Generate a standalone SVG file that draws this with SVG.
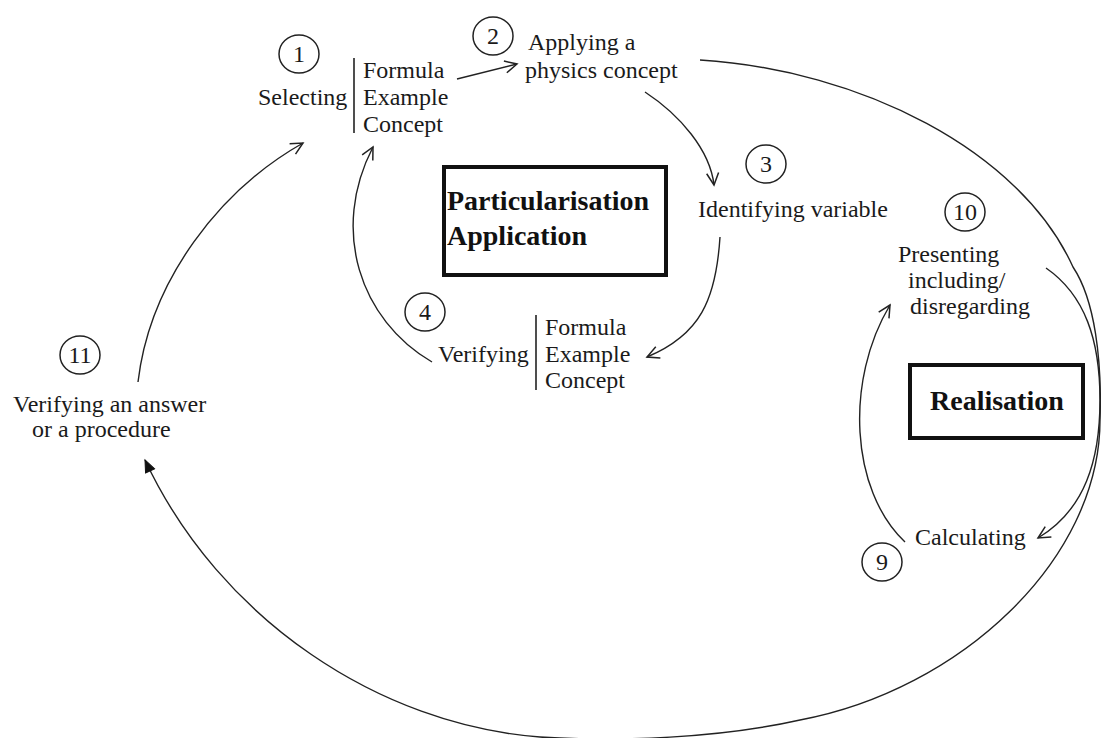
<svg xmlns="http://www.w3.org/2000/svg" width="1101" height="738" viewBox="0 0 1101 738">
<style>
.t{font-family:"Liberation Serif","Times New Roman",serif;font-size:24px;fill:#1a1a1a}
.b{font-family:"Liberation Serif","Times New Roman",serif;font-size:28px;font-weight:bold;fill:#111}
.n{font-family:"Liberation Serif","Times New Roman",serif;font-size:24px;fill:#1a1a1a;text-anchor:middle}
.c{fill:none;stroke:#222;stroke-width:1.5}
.bar{stroke:#222;stroke-width:1.6}
.box{fill:none;stroke:#111;stroke-width:4}
.e{fill:none;stroke:#222;stroke-width:1.4}
</style>
<defs>
<marker id="ah" markerUnits="userSpaceOnUse" markerWidth="16" markerHeight="16" refX="13" refY="7" orient="auto" viewBox="0 0 16 14">
<path d="M1,1 L13,7 L1,13" fill="none" stroke="#222" stroke-width="1.5"/>
</marker>
<marker id="ahf" markerUnits="userSpaceOnUse" markerWidth="16" markerHeight="16" refX="13" refY="7" orient="auto" viewBox="0 0 16 14">
<path d="M1,2 L13,7 L1,12 Z" fill="#111" stroke="#111" stroke-width="1"/>
</marker>
</defs>
<rect width="1101" height="738" fill="#fff"/>
<g id="connectors">
<path class="e" d="M700,60 C 860,70 1020,150 1073,267 C 1095,300 1102,360 1100,420 C 1100,560 960,690 800,720 C 720,738 620,742 540,737 C 380,725 220,620 145,460" marker-end="url(#ahf)"/>
<path class="e" d="M457,79 L517,64" marker-end="url(#ah)"/>
<path class="e" d="M645,92 C 680,115 710,150 714,185" marker-end="url(#ah)"/>
<path class="e" d="M720,237 C 716,300 700,335 647,357" marker-end="url(#ah)"/>
<path class="e" d="M432,362 C 360,320 330,230 373,147" marker-end="url(#ah)"/>
<path class="e" d="M138,382 C 150,280 220,190 303,143" marker-end="url(#ah)"/>
<path class="e" d="M1046,268 C 1085,295 1100,340 1100,400 C 1100,460 1085,510 1038,538" marker-end="url(#ah)"/>
<path class="e" d="M905,542 C 850,490 845,380 890,305" marker-end="url(#ah)"/>
</g>
<g id="node1">
<ellipse class="c" cx="299" cy="54" rx="20" ry="19"/>
<text class="n" x="299" y="62">1</text>
<text class="t" x="258" y="105">Selecting</text>
<line class="bar" x1="354" y1="58" x2="354" y2="133"/>
<text class="t" x="363" y="78">Formula</text>
<text class="t" x="363" y="105">Example</text>
<text class="t" x="363" y="132">Concept</text>
</g>
<g id="node2">
<ellipse class="c" cx="493" cy="36" rx="20" ry="19"/>
<text class="n" x="493" y="44">2</text>
<text class="t" x="528" y="50">Applying a</text>
<text class="t" x="525" y="78">physics concept</text>
</g>
<g id="node3">
<ellipse class="c" cx="766" cy="164" rx="20" ry="19"/>
<text class="n" x="766" y="172">3</text>
<text class="t" x="698" y="217">Identifying variable</text>
</g>
<g id="node4">
<ellipse class="c" cx="425" cy="312" rx="20" ry="19"/>
<text class="n" x="425" y="320">4</text>
<text class="t" x="438" y="362">Verifying</text>
<line class="bar" x1="536" y1="315" x2="536" y2="390"/>
<text class="t" x="545" y="335">Formula</text>
<text class="t" x="545" y="362">Example</text>
<text class="t" x="545" y="388">Concept</text>
</g>
<g id="particularisation">
<rect class="box" x="444" y="167" width="222" height="108"/>
<text class="b" x="447" y="210">Particularisation</text>
<text class="b" x="447" y="245">Application</text>
</g>
<g id="node10">
<ellipse class="c" cx="965" cy="212" rx="20" ry="19"/>
<text class="n" x="965" y="220">10</text>
<text class="t" x="898" y="262">Presenting</text>
<text class="t" x="908" y="288">including/</text>
<text class="t" x="910" y="314">disregarding</text>
</g>
<g id="realisation">
<rect class="box" x="910" y="365" width="173" height="73"/>
<text class="b" x="930" y="410">Realisation</text>
</g>
<g id="node9">
<ellipse class="c" cx="882" cy="562" rx="20" ry="19"/>
<text class="n" x="882" y="570">9</text>
<text class="t" x="915" y="545">Calculating</text>
</g>
<g id="node11">
<ellipse class="c" cx="80" cy="355" rx="20" ry="19"/>
<text class="n" x="80" y="363">11</text>
<text class="t" x="13" y="412">Verifying an answer</text>
<text class="t" x="32" y="437">or a procedure</text>
</g>
</svg>
